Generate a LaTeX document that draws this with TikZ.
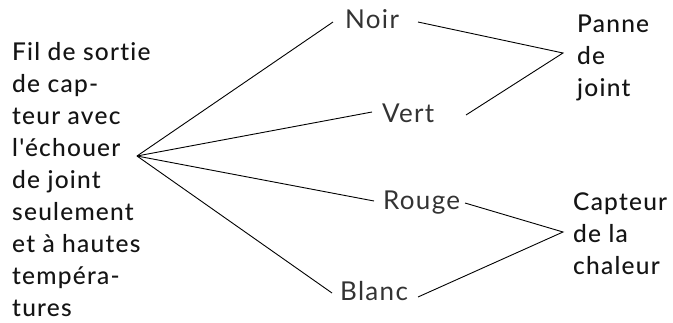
\documentclass[tikz,border=0pt]{standalone}
\usepackage{fontspec}
\setmainfont{Lato}[LetterSpace=5,Ligatures=NoCommon]
\newfontfamily\medfont{Lato Medium}[LetterSpace=5,Ligatures=NoCommon]
\begin{document}
\begin{tikzpicture}[x=1pt,y=-1pt,
  main/.style={font=\medfont\fontsize{24.5}{32}\selectfont, text=black!92, inner sep=0pt, align=left, anchor=north west},
  lab/.style={font=\fontsize{26}{30}\selectfont, text=black!80, inner sep=0pt, anchor=base west},
  wire/.style={line width=0.9pt, draw=black}]
\useasboundingbox (0,0) rectangle (673,322);
\node[main] (src) at (12,42.5) {Fil de sortie\\de cap-\\teur avec\\l\char"0027\relax échouer\\de joint\\seulement\\et à hautes\\tempéra-\\tures};
\coordinate (hub) at (137,156);
\node[lab] (noir) at (345,28) {Noir};
\node[lab] (vert) at (382,122) {Vert};
\node[lab] (rouge) at (383,209) {Rouge};
\node[lab] (blanc) at (340,300) {Blanc};
\node[main] (panne) at (577,15) {Panne\\de\\joint};
\node[main] (capteur) at (573,193) {Capteur\\de la\\chaleur};
\coordinate (pj) at (563,53);
\coordinate (cc) at (563,232);
\draw[wire] (hub) -- ([shift={(-12,-6)}]noir.base west);
\draw[wire] (hub) -- ([shift={(-10,-10)}]vert.base west);
\draw[wire] (hub) -- ([shift={(-9,-8)}]rouge.base west);
\draw[wire] (hub) -- ([shift={(-8,-7)}]blanc.base west);
\draw[wire] ([shift={(73,-6)}]noir.base west) -- (pj) -- ([shift={(84,-7)}]vert.base west);
\draw[wire] ([shift={(82,-6)}]rouge.base west) -- (cc) -- ([shift={(78,-3)}]blanc.base west);
\end{tikzpicture}
\end{document}
